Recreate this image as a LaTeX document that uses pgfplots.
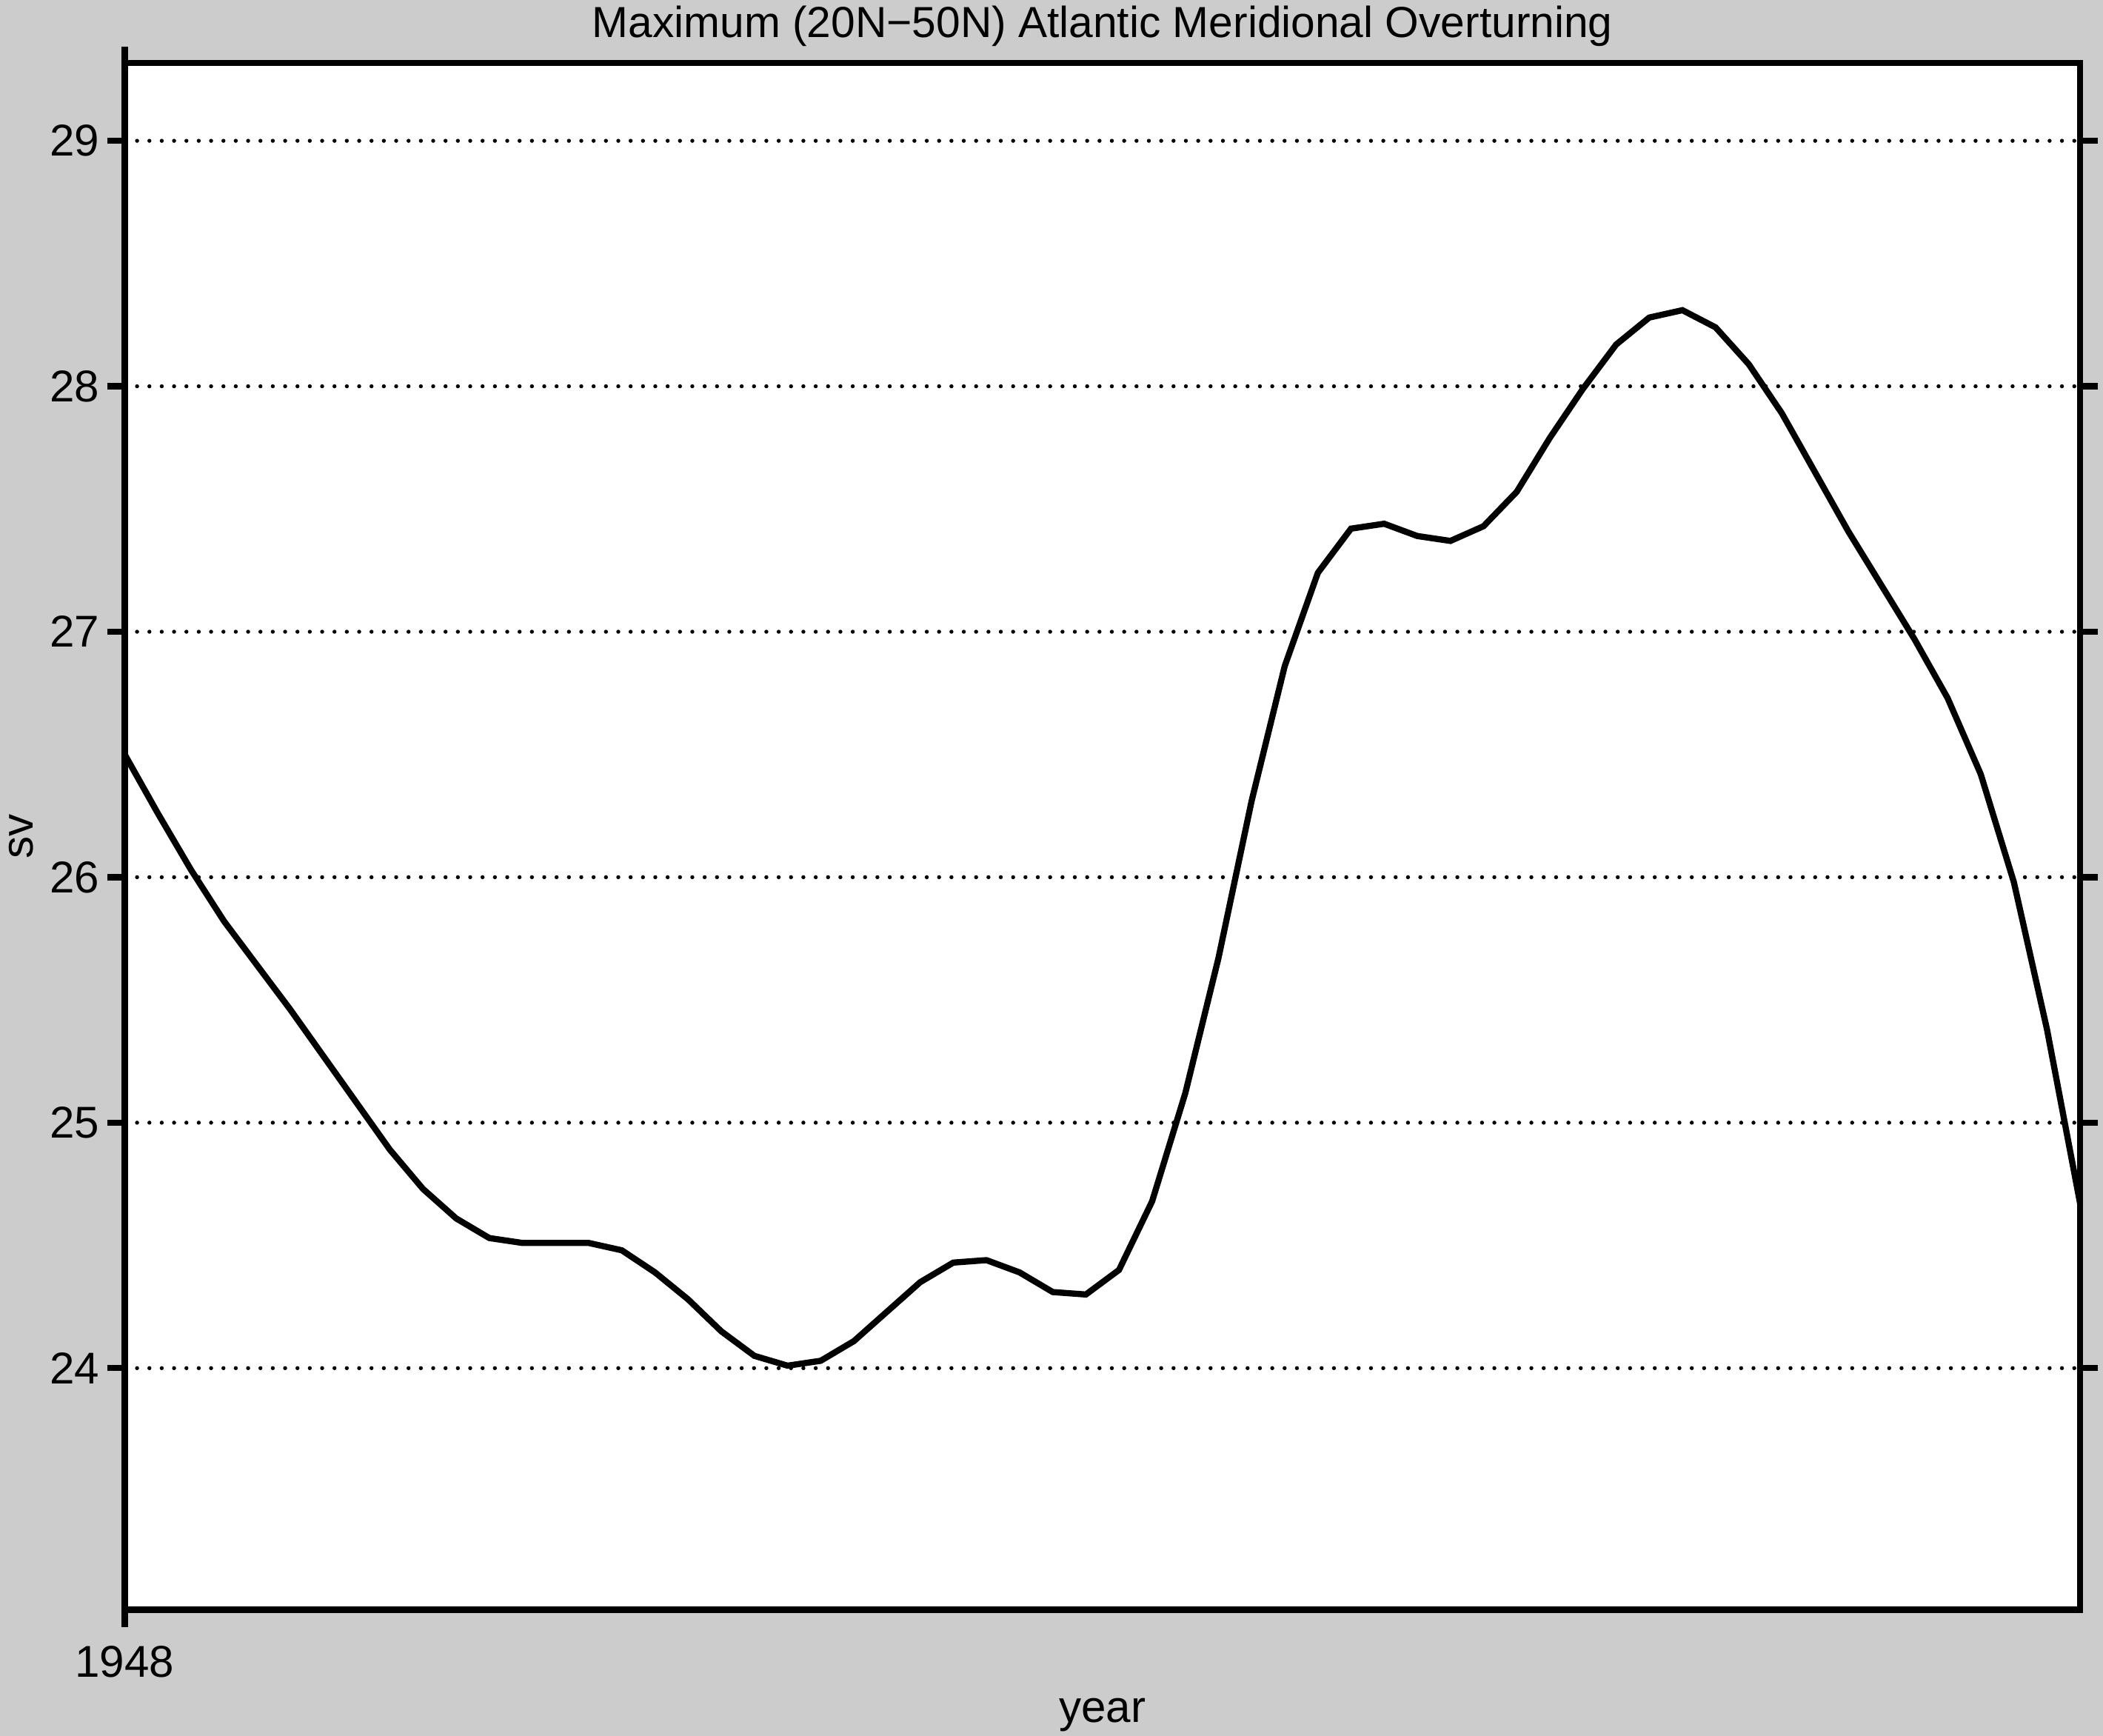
\documentclass[border=0pt]{standalone}
\usepackage{fontspec}
\setmainfont{Liberation Sans}
\usepackage{pgfplots}
\pgfplotsset{compat=1.18}
\definecolor{bggray}{HTML}{CCCCCC}

\begin{document}
\begin{tikzpicture}[font=\fontsize{8.3}{10}\selectfont]
% grey page behind the plot
\path[use as bounding box, fill=bggray] (0,0) rectangle (392pt,323.5pt);
\begin{axis}[
    at={(23.25pt,23.5pt)}, anchor=south west,
    scale only axis,
    width=364.5pt, height=288.25pt,
    xmin=1948, xmax=2007,
    ymin=23.016, ymax=29.317,
    xtick={1948},
    ytick={24,25,26,27,28,29},
    xtick pos=lower, ytick pos=both,
    tick align=outside,
    major tick length=3.3pt,
    tick style={black, line width=1.15pt},
    axis line style={line width=1.2pt},
    axis background/.style={fill=white},
    ymajorgrids,
    major grid style={black, line width=0.75pt, line cap=round, dash pattern=on 0pt off 2.3pt},
    /pgf/number format/assume math mode=true,
    /pgf/number format/1000 sep={},
    yticklabel style={xshift=2.1pt},
    xlabel={year},
    xlabel style={at={(axis description cs:0.5,0)}, anchor=base, yshift=-21pt, inner sep=0pt},
    ylabel={sv},
    ylabel style={at={(axis description cs:0,0.5)}, anchor=center, yshift=19.3pt, inner sep=0pt},
    clip=false,
]
\addplot[black, line width=1.15pt] coordinates {
(1948,26.50) (1949,26.26) (1950,26.03) (1951,25.82) (1952,25.64)
(1953,25.46) (1954,25.27) (1955,25.08) (1956,24.89) (1957,24.73)
(1958,24.61) (1959,24.53) (1960,24.51) (1961,24.51) (1962,24.51)
(1963,24.48) (1964,24.39) (1965,24.28) (1966,24.15) (1967,24.05)
(1968,24.01) (1969,24.03) (1970,24.11) (1971,24.23) (1972,24.35)
(1973,24.43) (1974,24.44) (1975,24.39) (1976,24.31) (1977,24.30)
(1978,24.40) (1979,24.68) (1980,25.12) (1981,25.67) (1982,26.31)
(1983,26.86) (1984,27.24) (1985,27.42) (1986,27.44) (1987,27.39)
(1988,27.37) (1989,27.43) (1990,27.57) (1991,27.79) (1992,27.99)
(1993,28.17) (1994,28.28) (1995,28.31) (1996,28.24) (1997,28.09)
(1998,27.89) (1999,27.65) (2000,27.41) (2001,27.19) (2002,26.97)
(2003,26.73) (2004,26.42) (2005,25.98) (2006,25.38) (2007,24.67)
};
% left spine runs a little above the frame
\draw[line width=1.2pt] (rel axis cs:0,1) -- ([yshift=3pt]rel axis cs:0,1);
% title
\node[anchor=base, inner sep=0pt, font=\fontsize{8.1}{10}\selectfont] at ([yshift=4.75pt]rel axis cs:0.5,1)
    {Maximum (20N−50N) Atlantic Meridional Overturning};
\end{axis}
\end{tikzpicture}
\end{document}
